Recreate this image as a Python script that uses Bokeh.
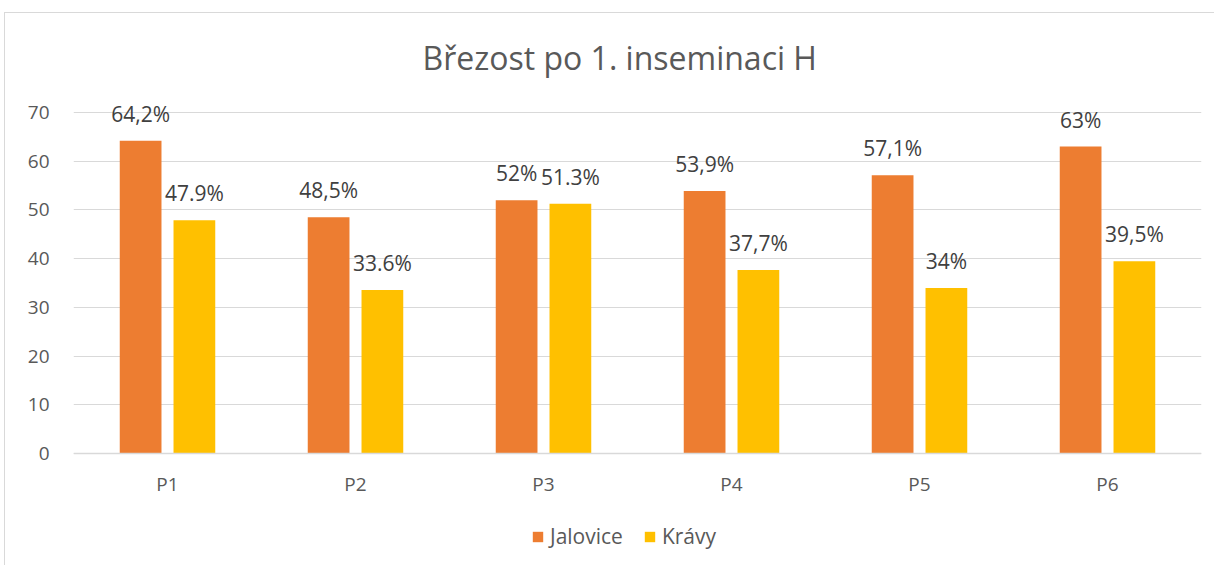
from bokeh.plotting import figure
from bokeh.models import ColumnDataSource, FactorRange, Range1d, Legend, LegendItem
from bokeh.transform import dodge
from bokeh.core.properties import value
from bokeh.embed import file_html
from bokeh.resources import INLINE

categories = ["P1", "P2", "P3", "P4", "P5", "P6"]
jalovice = [64.2, 48.5, 52.0, 53.9, 57.1, 63.0]
kravy = [47.9, 33.6, 51.3, 37.7, 34.0, 39.5]
jalovice_labels = ["64,2%", "48,5%", "52%", "53,9%", "57,1%", "63%"]
kravy_labels = ["47.9%", "33.6%", "51.3%", "37,7%", "34%", "39,5%"]
y_ticks = [0, 10, 20, 30, 40, 50, 60, 70]

FONT = "Open Sans"
ORANGE = "#ED7D31"
YELLOW = "#FFC000"
TXT = "#595959"

src = ColumnDataSource(dict(cat=categories, j=jalovice, k=kravy,
                            jl=jalovice_labels, kl=kravy_labels))

# pixel scale: y=70 at 111px, y=0 at 453px (page coords); frame spans 98..560
ppu = (453 - 111) / 70
y_bottom = -(560 - 453) / ppu
y_top = (453 - 98) / ppu
p = figure(width=1210, height=553, x_range=FactorRange(*categories, range_padding=0),
           y_range=Range1d(y_bottom, y_top), output_backend="svg", toolbar_location=None,
           min_border_left=68, min_border_right=14, min_border_top=85, min_border_bottom=6)
p.styles = {"margin-left": "4px", "margin-top": "12px",
            "border-left": "1px solid #D9D9D9", "border-top": "1px solid #D9D9D9"}
p.outline_line_color = None

p.title.text = "Březost po 1. inseminaci H"
p.title.align = "left"
p.title.offset = 349
p.title.text_font = FONT
p.title.text_font_size = "32px"
p.title.text_font_style = "normal"
p.title.text_color = TXT
p.title.standoff = 41

off = 0.143
bw = 0.222
r1 = p.vbar(x=dodge("cat", -off, range=p.x_range), top="j", width=bw, source=src,
            fill_color=ORANGE, line_color=None)
r2 = p.vbar(x=dodge("cat", off, range=p.x_range), top="k", width=bw, source=src,
            fill_color=YELLOW, line_color=None)

for col, lab, o in (("j", "jl", -off), ("k", "kl", off)):
    p.text(x=dodge("cat", o, range=p.x_range), y=col, text=lab, source=src,
           text_font=value(FONT), text_font_size="21px", text_color="#404040",
           text_align="center", text_baseline="alphabetic", y_offset=-27)

p.xgrid.grid_line_color = None
p.ygrid.grid_line_color = "#D9D9D9"
p.ygrid.grid_line_width = 1
p.ygrid.ticker = y_ticks
p.yaxis.ticker = y_ticks
p.yaxis.axis_line_color = None
p.yaxis.major_tick_line_color = None
p.yaxis.minor_tick_line_color = None
p.yaxis.major_label_text_font = FONT
p.yaxis.major_label_text_font_size = "19px"
p.yaxis.major_label_text_color = TXT
p.yaxis.major_label_standoff = 18

p.xaxis.fixed_location = 0
p.xaxis.axis_line_color = "#D9D9D9"
p.xaxis.axis_line_width = 1.5
p.xaxis.major_tick_line_color = None
p.xaxis.minor_tick_line_color = None
p.xaxis.major_label_text_font = FONT
p.xaxis.major_label_text_font_size = "19px"
p.xaxis.major_label_text_color = TXT
p.xaxis.major_label_standoff = 11

legend = Legend(items=[LegendItem(label="Jalovice", renderers=[r1]),
                       LegendItem(label="Krávy", renderers=[r2])],
                orientation="horizontal", location=(458, 10),
                glyph_width=13, glyph_height=13, label_standoff=6, spacing=20,
                label_text_font=FONT, label_text_font_size="21px", label_text_color=TXT,
                border_line_color=None, background_fill_alpha=0, margin=0, padding=0)
p.add_layout(legend, "center")

open("out.html", "w").write(file_html(p, INLINE))
